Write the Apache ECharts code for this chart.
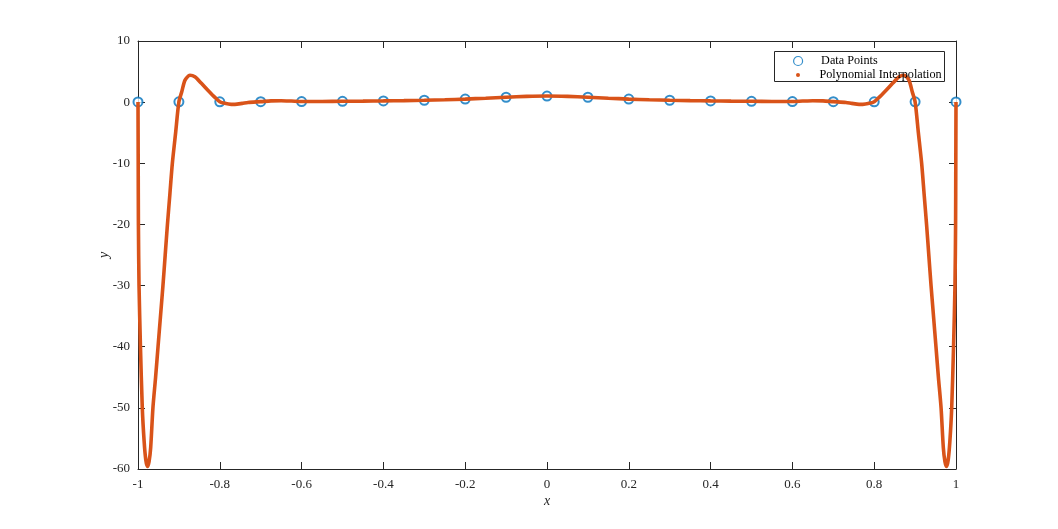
<!DOCTYPE html>
<html>
<head>
<meta charset="utf-8">
<script src="https://cdn.jsdelivr.net/npm/echarts@6/dist/echarts.min.js"></script>
<style>
html,body{margin:0;padding:0;background:#fff;}
#c{width:1058px;height:529px;}
</style>
</head>
<body>
<div id="c"></div>
<script>
// Data points (nodes)
var nodeX = [-1,-0.9,-0.8,-0.7,-0.6,-0.5,-0.4,-0.3,-0.2,-0.1,0,0.1,0.2,0.3,0.4,0.5,0.6,0.7,0.8,0.9,1];
var nodeY = [0.0385,0.0471,0.0588,0.0755,0.1,0.1379,0.2,0.3077,0.5,0.8,1,0.8,0.5,0.3077,0.2,0.1379,0.1,0.0755,0.0588,0.0471,0.0385];

// Interpolating curve
var curveX = [-1,-0.9995,-0.999,-0.9975,-0.994,-0.9895,-0.985,-0.981,-0.977,-0.973,-0.969,-0.9635,-0.957,-0.951,-0.945,-0.939,-0.9335,-0.928,-0.922,-0.916,-0.908,-0.9,
  -0.893,-0.885,-0.873,-0.861,-0.845,-0.828,-0.812,-0.8,-0.788,-0.772,-0.763,-0.745,-0.731,-0.7,-0.675,-0.65,-0.625,-0.6,-0.55,-0.5,-0.45,-0.4,-0.35,-0.3,-0.25,-0.2,-0.15,-0.1,-0.05,
  0,
  0.05,0.1,0.15,0.2,0.25,0.3,0.35,0.4,0.45,0.5,0.55,0.6,0.625,0.65,0.675,0.7,0.731,0.745,0.763,0.772,0.788,0.8,0.812,0.828,0.845,0.861,0.873,0.885,0.893,
  0.9,0.908,0.916,0.922,0.928,0.9335,0.939,0.945,0.951,0.957,0.9635,0.969,0.973,0.977,0.981,0.985,0.9895,0.994,0.9975,0.999,0.9995,1];
var curveY = [0.04,-10,-20,-30,-40,-50,-55.5,-58.5,-59.6,-58.8,-56.5,-50,-45,-40,-35,-30,-25,-20,-15,-10,-5,0.05,
  1.7,3.6,4.4,4.15,3.07,1.87,0.78,0.06,-0.2,-0.36,-0.36,-0.2,-0.05,0.08,0.2,0.24,0.18,0.1,0.11,0.14,0.16,0.2,0.25,0.31,0.39,0.5,0.64,0.8,0.94,
  1,
  0.94,0.8,0.64,0.5,0.39,0.31,0.25,0.2,0.16,0.14,0.11,0.1,0.18,0.24,0.2,0.08,-0.05,-0.2,-0.36,-0.36,-0.2,0.06,0.78,1.87,3.07,4.15,4.4,3.6,1.7,
  0.05,-5,-10,-15,-20,-25,-30,-35,-40,-45,-50,-56.5,-58.8,-59.6,-58.5,-55.5,-50,-40,-30,-20,-10,0.04];

var xTicks = [-1,-0.8,-0.6,-0.4,-0.2,0,0.2,0.4,0.6,0.8,1];
var yTicks = [-60,-50,-40,-30,-20,-10,0,10];

var pts = nodeX.map(function(x,i){return [x,nodeY[i]];});
var crv = curveX.map(function(x,i){return [x,curveY[i]];});

var axisCol = '#262626';
var font = 'Liberation Serif';
var chart = echarts.init(document.getElementById('c'));
var baseX = {type:'value', min:-1, max:1, interval:0.2,
  axisLine:{show:true, onZero:false, lineStyle:{color:axisCol, width:1}},
  axisTick:{show:true, inside:true, length:7, lineStyle:{color:axisCol}},
  splitLine:{show:false}};
var baseY = {type:'value', min:-60, max:10, interval:10,
  axisLine:{show:true, onZero:false, lineStyle:{color:axisCol, width:1}},
  axisTick:{show:true, inside:true, length:7, lineStyle:{color:axisCol}},
  splitLine:{show:false}};

var legendText = {fontFamily:font, fontSize:12.2, color:'#000'};

chart.setOption({
  animation:false,
  backgroundColor:'#fff',
  grid:{left:138, right:102, top:41, bottom:60, containLabel:false},
  xAxis:[
    Object.assign({}, baseX, {position:'bottom', name:'x', nameLocation:'middle', nameGap:25, nameMoveOverlap:false,
      nameTextStyle:{fontFamily:font, fontStyle:'italic', fontSize:14, color:axisCol},
      axisLabel:{fontFamily:font, fontSize:13, color:axisCol, margin:9,
        formatter:function(v){return String(Math.round(v*10)/10);}}}),
    Object.assign({}, baseX, {position:'top', axisLabel:{show:false}})
  ],
  yAxis:[
    Object.assign({}, baseY, {position:'left', name:'y', nameLocation:'middle', nameGap:27, nameRotate:90, nameMoveOverlap:false,
      nameTextStyle:{fontFamily:font, fontStyle:'italic', fontSize:14, color:axisCol},
      axisLabel:{fontFamily:font, fontSize:13, color:axisCol, margin:8}}),
    Object.assign({}, baseY, {position:'right', axisLabel:{show:false}})
  ],
  legend:[
    {show:true, data:[{name:'Data Points', icon:'circle', itemStyle:{color:'#fff', borderColor:'#0072BD', borderWidth:1.2}}],
     left:793, top:53, itemWidth:36, itemHeight:9, itemGap:0, padding:[2,2,2,0],
     textStyle:legendText},
    {show:true, data:[{name:'Polynomial Interpolation', icon:'circle', itemStyle:{color:'#D95319'}}],
     left:796, top:67, itemWidth:33, itemHeight:4, itemGap:0, padding:[2,2,2,0],
     textStyle:legendText}
  ],
  graphic:[{type:'rect', shape:{x:774.5, y:51.5, width:170, height:30}, style:{fill:'#fff', stroke:axisCol, lineWidth:1}, z:-1, zlevel:0}],
  series:[
    {name:'Data Points', type:'scatter', data:pts, symbol:'emptyCircle', symbolSize:9,
     itemStyle:{color:'#0072BD', borderColor:'#0072BD', borderWidth:1.1}, z:2},
    {name:'Polynomial Interpolation', type:'line', data:crv, showSymbol:false, smooth:0.25,
     lineStyle:{color:'#D95319', width:3.6}, itemStyle:{color:'#D95319'}, z:3, clip:true}
  ]
});
</script>
</body>
</html>
